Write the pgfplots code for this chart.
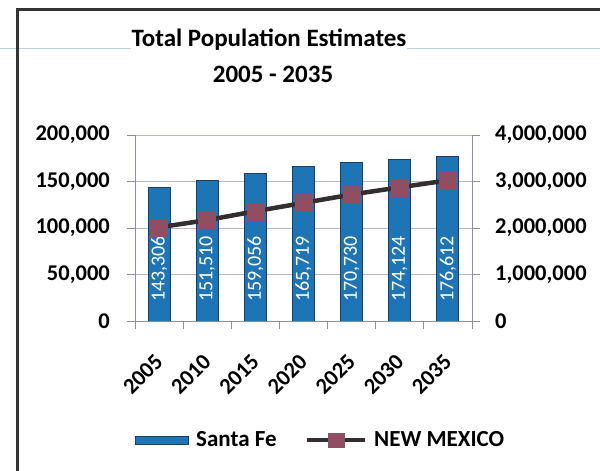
\documentclass[border=0pt]{standalone}
\usepackage{fontspec}
\setmainfont{Carlito}
\usepackage{pgfplots}
\usepackage{pgfplotstable}
\pgfplotsset{compat=1.18}

\definecolor{sfblue}{RGB}{31,116,182}
\definecolor{sfedge}{RGB}{22,64,104}
\definecolor{nmline}{RGB}{52,45,50}
\definecolor{nmmark}{RGB}{145,78,98}
\definecolor{axisgray}{RGB}{140,140,165}
\definecolor{gridgray}{RGB}{185,185,198}
\definecolor{scanline}{RGB}{190,208,220}

\newcommand\titlefont{\fontsize{25bp}{30bp}\selectfont\bfseries}
\newcommand\tickfont{\fontsize{22.5bp}{26bp}\selectfont\bfseries}
\newcommand\legfont{\fontsize{23bp}{27bp}\selectfont\bfseries}
\newcommand\barfont{\fontsize{20bp}{24bp}\selectfont}

% Santa Fe county, left axis
\pgfplotstableread{
idx sf base
0 143306 0
1 151510 0
2 159056 0
3 165719 0
4 170730 0
5 174124 0
6 176612 0
}\sfdata

% New Mexico, right axis
\pgfplotstableread{
idx nm
0 2015000
1 2170000
2 2360000
3 2540000
4 2720000
5 2875000
6 3025000
}\nmdata

\begin{document}
\begin{tikzpicture}
\useasboundingbox (0,0) rectangle (600bp,471bp);
\draw[scanline, line width=1bp] (0,422bp) -- (600bp,422bp);
\draw[black!80, line width=3bp] (17bp,-2bp) -- (17bp,461bp) -- (602bp,461bp);
\node[fill=white, inner xsep=1bp, inner ysep=0pt, anchor=base, font=\titlefont] at (269bp,424bp) {Total Population Estimates};
\node[anchor=base, font=\titlefont] at (273bp,388bp) {2005 - 2035};

\begin{axis}[
    at={(135bp,150bp)}, anchor=south west,
    scale only axis, width=337bp, height=186bp,
    xmin=-0.5, xmax=6.5, ymin=0, ymax=200000,
    axis x line*=bottom, axis y line*=left,
    axis line style={axisgray, line width=0.8bp, -},
    xtick={0,...,6},
    xticklabels={2005,2010,2015,2020,2025,2030,2035},
    minor xtick={-0.5,0.5,...,6.5},
    ytick={0,50000,...,200000},
    tick align=outside,
    major tick length=8bp, minor tick length=8bp,
    xtick style={/pgfplots/major tick length=0pt},
    tick style={axisgray, line width=0.8bp},
    ymajorgrids, grid style={gridgray, line width=0.8bp},
    scaled y ticks=false,
    yticklabel style={font=\tickfont, inner sep=0pt, xshift=-17bp,
        /pgf/number format/fixed, /pgf/number format/1000 sep={,},
        /pgf/number format/assume math mode=true},
    xticklabel style={font=\tickfont, inner sep=0pt, xshift=0bp, yshift=-29bp, rotate=45, anchor=east},
    legend columns=2,
    legend style={draw=none, fill=none, at={(0,-0.64)}, anchor=west,
        font=\legfont, inner sep=0pt, column sep=7bp,
        nodes={inner sep=0pt},
        /tikz/every even column/.append style={column sep=28bp}},
]
\addplot[ybar, bar width=22bp, bar shift=0pt, fill=sfblue, draw=sfedge, line width=1bp,
    legend image code/.code={\fill[sfblue, draw=sfedge] (0bp,-4bp) rectangle (53bp,4bp);}]
    table[x=idx, y=sf] {\sfdata};
\addlegendentry{Santa Fe}
\addplot[draw=none, forget plot, nodes near coords, point meta=explicit,
    nodes near coords={\pgfmathprintnumber[fixed, 1000 sep={,}, assume math mode=true]{\pgfplotspointmeta}},
    every node near coord/.append style={yshift=19bp, rotate=90, anchor=west, inner sep=0pt, text=white, font=\barfont}]
    table[x=idx, y=base, meta=sf] {\sfdata};
\addlegendimage{legend image code/.code={
    \draw[nmline, line width=4.5bp] (0bp,0bp) -- (58bp,0bp);
    \fill[nmmark] (21bp,-7bp) rectangle (37bp,7bp);}}
\addlegendentry{NEW MEXICO}
\end{axis}

\begin{axis}[
    at={(135bp,150bp)}, anchor=south west,
    scale only axis, width=337bp, height=186bp,
    xmin=-0.5, xmax=6.5, ymin=0, ymax=4000000,
    axis x line=none, axis y line*=right,
    axis line style={axisgray, line width=0.8bp, -},
    ytick={0,1000000,...,4000000},
    tick align=outside, major tick length=8bp,
    tick style={axisgray, line width=0.8bp},
    scaled y ticks=false,
    yticklabel style={font=\tickfont, inner sep=0pt, xshift=15bp,
        /pgf/number format/fixed, /pgf/number format/1000 sep={,},
        /pgf/number format/assume math mode=true},
]
\addplot[nmline, line width=4.5bp, mark=square*, mark size=8.5bp,
    mark options={fill=nmmark, draw=nmmark, line width=0.5bp}]
    table[x=idx, y=nm] {\nmdata};
\end{axis}
\end{tikzpicture}
\end{document}
